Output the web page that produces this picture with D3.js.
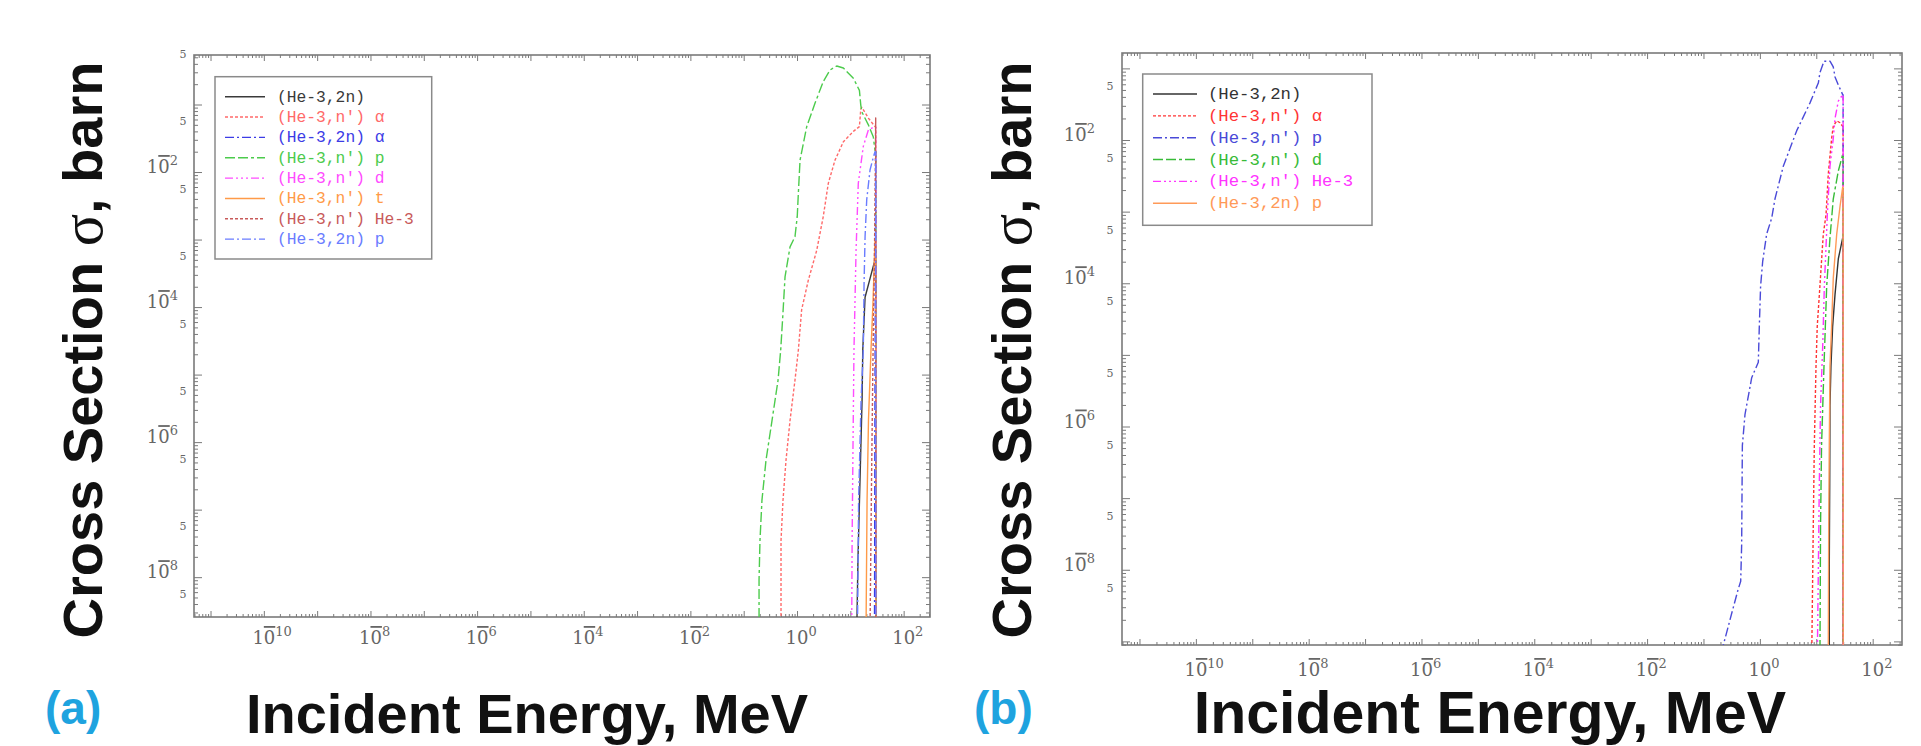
<!DOCTYPE html>
<html><head><meta charset="utf-8">
<script src="https://cdn.jsdelivr.net/npm/d3@7"></script>
<style>body{margin:0;background:#fff;overflow:hidden}svg{display:block}</style>
</head><body>
<svg id="c" width="1921" height="746"></svg>
<script>
// ================= DATA (energy in MeV, cross section in barn) =================
const xTickExps = [-10, -8, -6, -4, -2, 0, 2];
const yTickExps = [-2, -4, -6, -8];
const minorLabel = "5";

// ---- panel (a) ----
const legendA = ["(He-3,2n)", "(He-3,n') \u03b1", "(He-3,2n) \u03b1", "(He-3,n') p", "(He-3,n') d", "(He-3,n') t", "(He-3,n') He-3", "(He-3,2n) p"];
const a_2n = [[13.2,1.6e-9],[13.9,1.8e-8],[15.2,2.8e-7],[16.6,4.2e-6],[17.1,2.3e-5],[18.9,1.4e-4],[29.0,5.0e-4],[29.9,5.0e-4],[30,1e-12]];
const a_nAlpha = [[0.501,1.6e-9],[0.501,3.5e-8],[0.546,1.38e-7],[0.622,5.4e-7],[0.740,2.1e-6],[0.916,8.3e-6],[1.06,2.3e-5],[1.22,9.1e-5],[1.63,2.5e-4],[2.34,6.9e-4],[3.11,2.2e-3],[3.86,6.8e-3],[5.16,1.5e-2],[7.40,2.8e-2],[11.4,4.0e-2],[14.8,4.7e-2],[15.7,8.5e-2],[16.4,9.1e-2],[21.8,6.3e-2],[29.0,4.7e-2],[29.9,4.6e-2],[30,1e-12]];
const a_2nAlpha = [[28.4,1.6e-9],[29.0,4.2e-6],[29.6,6.9e-4],[29.9,2.0e-2],[30,1e-12]];
const a_nP = [[0.194,1.6e-9],[0.194,9.1e-9],[0.202,3.5e-8],[0.220,1.38e-7],[0.262,5.4e-7],[0.340,2.1e-6],[0.441,8.3e-6],[0.494,2.3e-5],[0.540,7.2e-5],[0.596,2.8e-4],[0.740,7.8e-4],[0.916,1.1e-3],[1.01,2.2e-3],[1.06,4.9e-3],[1.14,1.5e-2],[1.52,4.7e-2],[2.18,0.105],[3.11,0.219],[4.16,0.324],[5.56,0.372],[7.40,0.347],[11.4,0.245],[14.8,0.162],[15.7,0.098],[16.4,0.078],[21.8,0.050],[27.0,0.033],[29.0,0.021],[29.9,0.020],[30,1e-12]];
const a_nD = [[10.6,1.6e-9],[10.8,3.5e-8],[11.2,7.6e-7],[11.7,2.3e-5],[12.8,6.9e-4],[14.1,6.8e-3],[17.5,2.4e-2],[21.8,4.2e-2],[27.0,4.6e-2],[29.9,4.6e-2],[30,1e-12]];
const a_nT = [[19.7,1.6e-9],[20.6,1.38e-7],[21.9,2.1e-6],[24.4,2.3e-5],[26.7,1.26e-4],[29.0,9.8e-4],[29.9,9.8e-4],[30,1e-12]];
const a_nHe3 = [[23.4,1.6e-9],[25.0,2.8e-7],[26.7,2.3e-5],[28.4,6.9e-4],[29.4,1.07e-2],[29.9,6.3e-2],[30,1e-12]];
const a_2nP = [[13.6,1.6e-9],[14.3,1.4e-7],[15.9,4.2e-6],[17.5,2.3e-5],[18.1,2.3e-4],[18.9,1.1e-3],[20.3,3.9e-3],[23.4,1.07e-2],[27.0,1.66e-2],[29.0,2.0e-2],[29.9,2.0e-2],[30,1e-12]];
const xDomainA = [4.9e-12, 312];
const yDomainA = [2.57e-9, 0.541];

// ---- panel (b) ----
const legendB = ["(He-3,2n)", "(He-3,n') \u03b1", "(He-3,n') p", "(He-3,n') d", "(He-3,n') He-3", "(He-3,2n) p"];
const b_2n = [[17.0,5e-10],[17.0,1.15e-8],[17.3,1.5e-7],[17.5,1.95e-6],[18.2,7.0e-6],[19.5,2.5e-5],[21.5,7.0e-5],[24.6,2.2e-4],[29.4,4.3e-4],[29.9,4.3e-4],[30,1e-12]];
const b_nAlpha = [[8.28,5e-10],[8.51,3.2e-9],[8.85,4.2e-8],[9.23,5.4e-7],[9.89,7.0e-6],[10.4,2.5e-5],[11.6,9.1e-5],[13.3,4.8e-4],[14.9,9.1e-4],[16.3,3.3e-3],[18.7,1.05e-2],[20.0,1.55e-2],[23.0,1.86e-2],[26.3,1.74e-2],[29.4,1.55e-2],[29.9,1.55e-2],[30,1e-12]];
const b_nP = [[0.20,4e-10],[0.225,8.9e-10],[0.316,2.45e-9],[0.414,5.4e-9],[0.457,6.9e-9],[0.475,2.2e-8],[0.489,5.4e-7],[0.545,1.48e-6],[0.716,4.8e-6],[0.938,7.9e-6],[0.977,2.5e-5],[1.03,9.1e-5],[1.12,2.0e-4],[1.32,4.9e-4],[1.62,8.1e-4],[1.85,1.5e-3],[2.60,4.3e-3],[4.50,1.35e-2],[7.74,3.3e-2],[10.9,6.3e-2],[11.6,8.7e-2],[13.7,0.126],[17.5,0.126],[20.0,0.105],[21.5,0.076],[24.5,0.059],[29.4,0.043],[29.9,0.043],[30,1e-12]];
const b_nD = [[11.6,5e-10],[11.9,4.2e-8],[12.4,5.4e-7],[13.7,7.0e-6],[15.3,9.1e-5],[17.5,4.3e-4],[20.0,1.5e-3],[24.6,3.7e-3],[29.4,6.3e-3],[29.9,6.3e-3],[30,1e-12]];
const b_nHe3 = [[10.4,5e-10],[10.9,1.15e-8],[11.3,1.5e-7],[11.9,1.95e-6],[13.0,1.33e-5],[13.9,9.1e-5],[14.9,3.3e-4],[15.7,9.1e-4],[17.5,4.3e-3],[20.0,1.05e-2],[21.5,2.0e-2],[24.6,3.5e-2],[29.4,4.3e-2],[29.9,4.3e-2],[30,1e-12]];
const b_2nP = [[16.3,5e-10],[16.6,4.2e-8],[17.0,5.4e-7],[17.5,7.0e-6],[18.7,2.5e-5],[20.0,1.17e-4],[23.0,4.8e-4],[26.3,1.17e-3],[29.4,2.2e-3],[29.9,2.2e-3],[30,1e-12]];
const xDomainB = [4.9e-12, 331];
const yDomainB = [8.9e-10, 0.164];

const yTitle = "Cross Section ";
const yTitleSym = "\u03c3";
const yTitleEnd = ", barn";
const xTitle = "Incident Energy, MeV";
const panelTags = ["(a)", "(b)"];

// ================= STYLES =================
const DOT = "3,2", DASHDOT = "9,3,2,3", LONGDASH = "10,3,10,3,3,3", DASH3DOT = "8,3,2,3,2,3,2,3";
const panelA = {
  left: 194, right: 930, top: 55, bottom: 617,
  xDomain: xDomainA, yDomain: yDomainA,
  series: [a_2n, a_nAlpha, a_2nAlpha, a_nP, a_nD, a_nT, a_nHe3, a_2nP],
  legend: legendA,
  colors: ["#3a3a3a", "#ff6a6a", "#3c3ce6", "#4ccb4c", "#ff4cff", "#ff9a48", "#c85a5a", "#6a7cff"],
  dashes: [null, DOT, DASHDOT, LONGDASH, DASH3DOT, null, DOT, DASHDOT],
  leg: {x0: 215, y0: 76.7, x1: 431.7, y1: 259, row0: 96.7, dy: 20.35, lx0: 225, lx1: 265, tx: 277, fs: 16.3},
  yLabRight: 178, fiveX: 183, xLabBase: 644,
  yTitleX: 102, xTitleX: 527, xTitleFs: 56, tagX: 45
};
const panelB = {
  left: 1122, right: 1902, top: 53, bottom: 645,
  xDomain: xDomainB, yDomain: yDomainB,
  series: [b_2n, b_nAlpha, b_nP, b_nD, b_nHe3, b_2nP],
  legend: legendB,
  colors: ["#333333", "#ff3434", "#4a4ad8", "#38bb38", "#ff34ff", "#ff9a58"],
  dashes: [null, DOT, DASHDOT, LONGDASH, DASH3DOT, null],
  leg: {x0: 1142.7, y0: 74, x1: 1372, y1: 225.3, row0: 94, dy: 21.85, lx0: 1153, lx1: 1197, tx: 1208, fs: 17.3},
  yLabRight: 1095, fiveX: 1110, xLabBase: 676,
  yTitleX: 1031, xTitleX: 1490, xTitleFs: 59, tagX: 974
};

const svg = d3.select("#c");
const GRAY = "#7a7a7a", LABGRAY = "#666";
const SERIF = "'DejaVu Serif','Liberation Serif',serif";
const BASE_FS = 18, SUP_FS = 13, DIGIT = 0.636;

function expLabel(g, xStart, yBase, exp) {
  const t = g.append("text").attr("x", xStart).attr("y", yBase)
    .attr("font-family", SERIF).attr("fill", LABGRAY).attr("font-size", BASE_FS);
  t.append("tspan").text("1");
  // the negative sign is drawn as a bar over the 0, as in the original plot
  const z = t.append("tspan").text("0");
  if (exp < 0) z.attr("text-decoration", "overline").style("text-decoration", "overline");
  t.append("tspan").attr("font-size", SUP_FS).attr("dy", -8).text(String(Math.abs(exp)));
  return t;
}

function drawPanel(P, idx) {
  const x = d3.scaleLog().domain(P.xDomain).range([P.left, P.right]);
  const y = d3.scaleLog().domain(P.yDomain).range([P.bottom, P.top]);
  const g = svg.append("g");

  const inX = v => v >= P.xDomain[0] && v <= P.xDomain[1];
  const inY = v => v >= P.yDomain[0] && v <= P.yDomain[1];
  const xMaj = [], xMin = [], yMaj = [], yMin = [];
  for (let e = -13; e <= 3; e++) {
    const d = Math.pow(10, e);
    if (inX(d)) xMaj.push(d);
    if (inY(d)) yMaj.push(d);
    for (let m = 2; m <= 9; m++) {
      if (inX(m * d)) xMin.push(m * d);
      if (inY(m * d)) yMin.push(m * d);
    }
  }
  const ax = [
    [d3.axisBottom(x).tickValues(xMaj).tickSize(-6), `translate(0,${P.bottom})`],
    [d3.axisBottom(x).tickValues(xMin).tickSize(-3), `translate(0,${P.bottom})`],
    [d3.axisTop(x).tickValues(xMaj).tickSize(-6), `translate(0,${P.top})`],
    [d3.axisTop(x).tickValues(xMin).tickSize(-3), `translate(0,${P.top})`],
    [d3.axisLeft(y).tickValues(yMaj).tickSize(-8), `translate(${P.left},0)`],
    [d3.axisLeft(y).tickValues(yMin).tickSize(-4), `translate(${P.left},0)`],
    [d3.axisRight(y).tickValues(yMaj).tickSize(-8), `translate(${P.right},0)`],
    [d3.axisRight(y).tickValues(yMin).tickSize(-4), `translate(${P.right},0)`]
  ];
  ax.forEach(([a, tr]) => {
    const ag = g.append("g").attr("transform", tr).call(a.tickFormat(() => ""));
    ag.select(".domain").remove();
    ag.selectAll("line").attr("stroke", GRAY).attr("stroke-width", 1);
  });

  g.append("rect").attr("x", P.left).attr("y", P.top)
    .attr("width", P.right - P.left).attr("height", P.bottom - P.top)
    .attr("fill", "none").attr("stroke", GRAY).attr("stroke-width", 1.6);

  // x tick labels
  xTickExps.forEach(e => {
    const v = Math.pow(10, e);
    if (!inX(v)) return;
    expLabel(g, x(v) - BASE_FS * DIGIT, P.xLabBase, e);
  });
  // y tick labels
  yTickExps.forEach(e => {
    const v = Math.pow(10, e);
    if (!inY(v)) return;
    const w = 2 * BASE_FS * DIGIT + String(Math.abs(e)).length * SUP_FS * DIGIT;
    expLabel(g, P.yLabRight - w, y(v) + 1, e);
  });
  for (let e = -10; e <= 0; e++) {
    const v = 5 * Math.pow(10, e);
    if (!inY(v)) continue;
    g.append("text").attr("x", P.fiveX).attr("y", y(v) - 3)
      .attr("text-anchor", "middle").attr("dominant-baseline", "central")
      .attr("font-family", SERIF).attr("font-size", 11).attr("fill", LABGRAY)
      .text(minorLabel);
  }

  // curves
  const clipId = "clip" + idx;
  svg.append("defs").append("clipPath").attr("id", clipId).append("rect")
    .attr("x", P.left).attr("y", P.top).attr("width", P.right - P.left).attr("height", P.bottom - P.top);
  const line = d3.line().x(d => x(d[0])).y(d => y(d[1]));
  const cg = g.append("g").attr("clip-path", `url(#${clipId})`);
  P.series.forEach((s, i) => {
    cg.append("path").attr("d", line(s)).attr("fill", "none")
      .attr("stroke", P.colors[i]).attr("stroke-width", 1.4)
      .attr("stroke-dasharray", P.dashes[i]).attr("stroke-linejoin", "round");
  });

  // legend
  const L = P.leg;
  g.append("rect").attr("x", L.x0).attr("y", L.y0).attr("width", L.x1 - L.x0).attr("height", L.y1 - L.y0)
    .attr("fill", "#fff").attr("stroke", "#8a8a8a").attr("stroke-width", 1.5);
  P.legend.forEach((name, i) => {
    const yy = L.row0 + i * L.dy;
    g.append("line").attr("x1", L.lx0).attr("x2", L.lx1).attr("y1", yy).attr("y2", yy)
      .attr("stroke", P.colors[i]).attr("stroke-width", 1.4).attr("stroke-dasharray", P.dashes[i]);
    g.append("text").attr("x", L.tx).attr("y", yy + 5)
      .attr("font-family", "'Liberation Mono','DejaVu Sans Mono',monospace")
      .attr("font-size", L.fs).attr("fill", P.colors[i]).attr("xml:space", "preserve").text(name);
  });

  // titles
  const yt = svg.append("text").attr("transform", `translate(${P.yTitleX},350) rotate(-90)`)
    .attr("text-anchor", "middle").attr("font-family", "'Liberation Sans',Arial,sans-serif")
    .attr("font-weight", "bold").attr("font-size", 56).attr("fill", "#111");
  yt.append("tspan").text(yTitle);
  yt.append("tspan").attr("font-weight", "normal").attr("font-family", "'Liberation Serif',serif").attr("font-size", 60).text(yTitleSym);
  yt.append("tspan").text(yTitleEnd);
  svg.append("text").attr("x", P.xTitleX).attr("y", 733).attr("text-anchor", "middle")
    .attr("font-family", "'Liberation Sans',Arial,sans-serif").attr("font-weight", "bold")
    .attr("font-size", P.xTitleFs).attr("fill", "#111").text(xTitle);
  svg.append("text").attr("x", P.tagX).attr("y", 724)
    .attr("font-family", "'Liberation Sans',Arial,sans-serif").attr("font-weight", "bold")
    .attr("font-size", 46).attr("fill", "#1ea3df").text(panelTags[idx]);
}

drawPanel(panelA, 0);
drawPanel(panelB, 1);
</script>
</body></html>
